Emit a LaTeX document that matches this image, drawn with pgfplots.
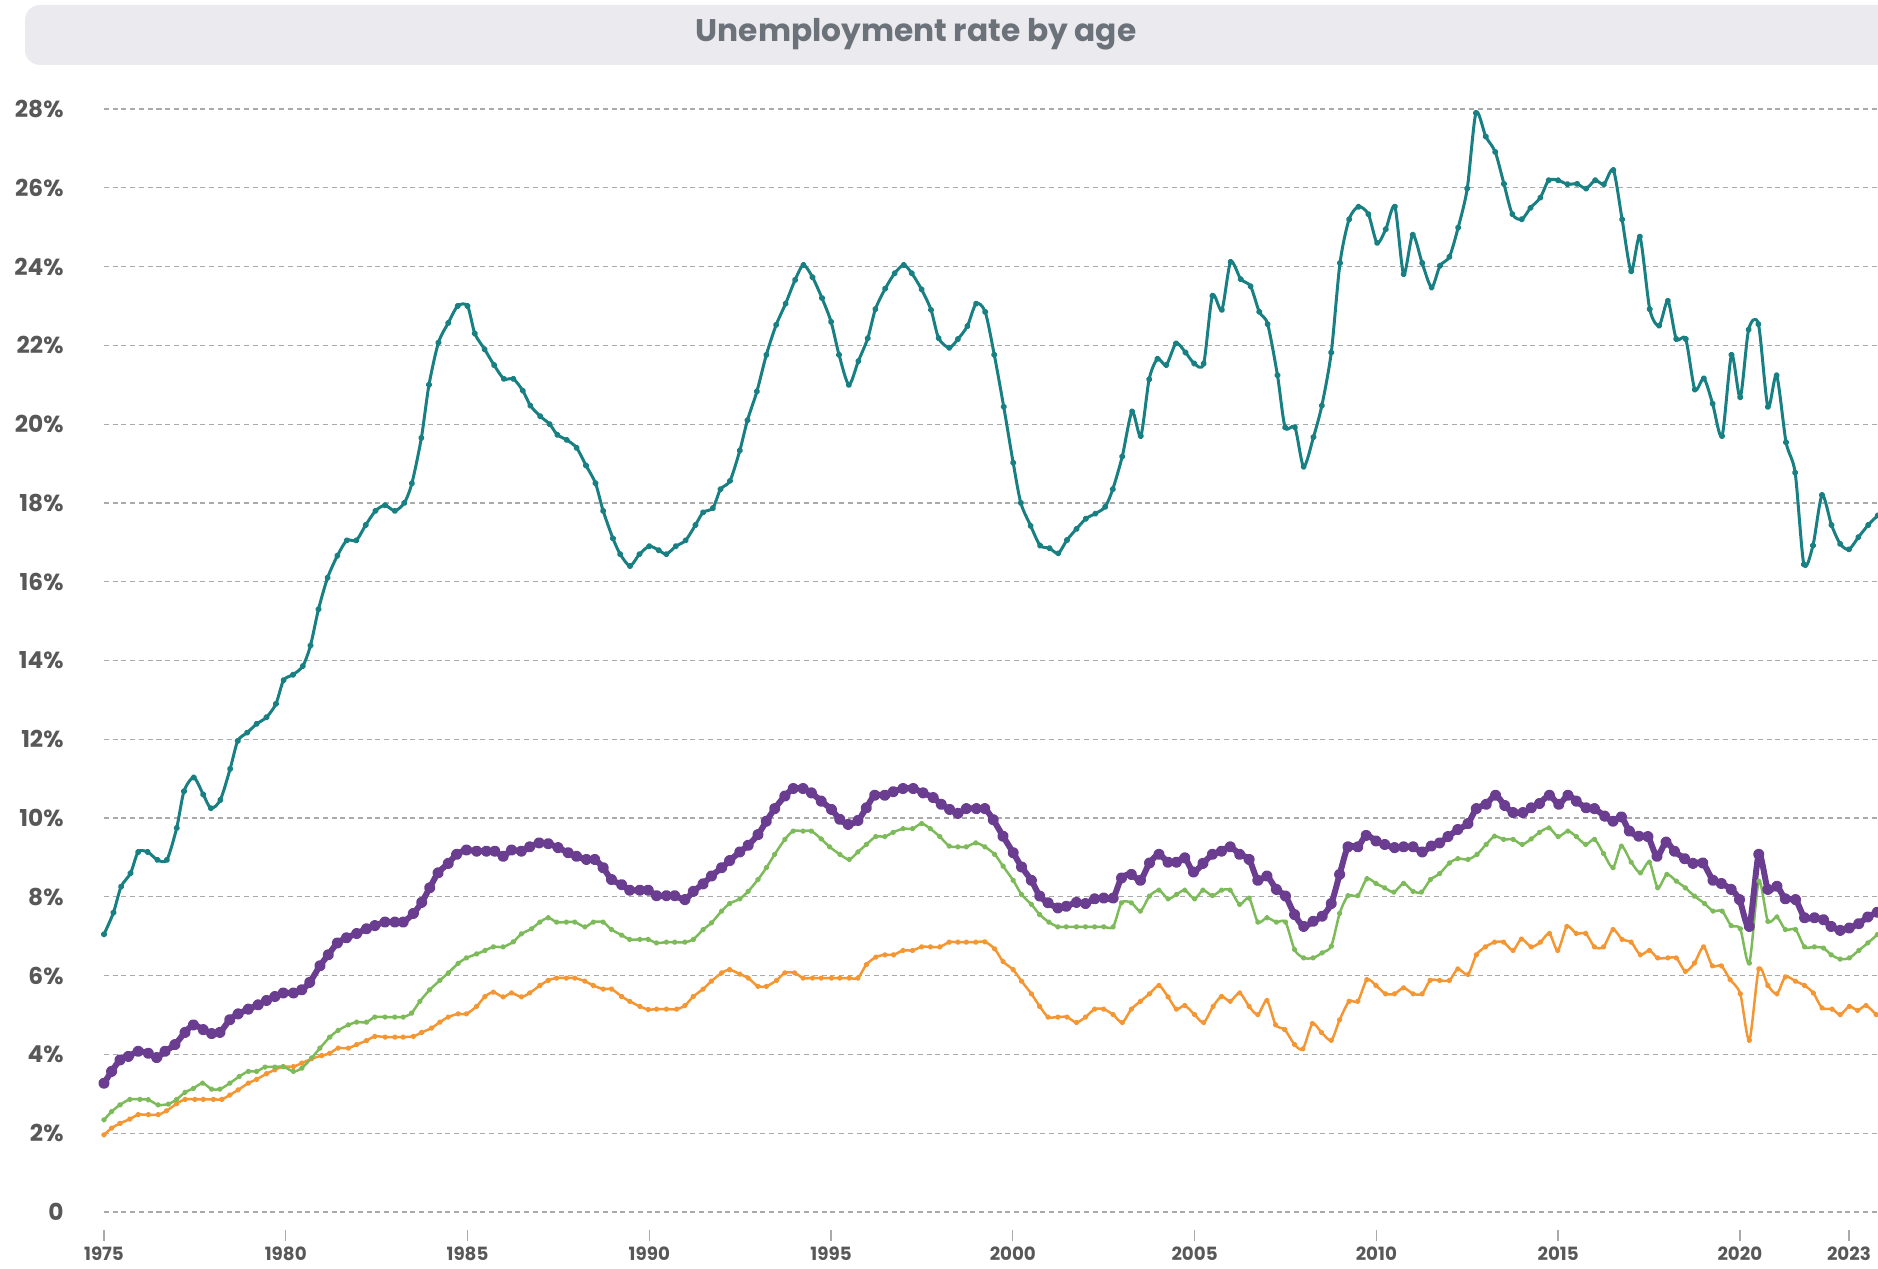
\documentclass[border=0pt]{standalone}
\usepackage{pgfplots}
\pgfplotsset{compat=1.18}
\usepackage{fontspec}
\setmainfont{Poppins}

\definecolor{cteal}{RGB}{24,128,130}
\definecolor{cpurple}{RGB}{106,61,145}
\definecolor{cgreen}{RGB}{125,187,90}
\definecolor{corange}{RGB}{244,150,50}
\definecolor{titlebg}{RGB}{235,235,239}
\definecolor{titlegray}{RGB}{108,114,122}
\definecolor{labelgray}{RGB}{88,88,88}
\definecolor{gridgray}{RGB}{170,170,170}

\begin{document}
\begin{tikzpicture}
\useasboundingbox (-41.6pt,-22.4pt) rectangle (709.6pt,484.8pt);
\fill[titlebg, rounded corners=6pt] (-31.6pt,458.8pt) rectangle (725pt,482.8pt);
\node[font=\bfseries\fontsize{12.5}{14}\selectfont, text=titlegray] at (324.8pt,471pt) {Unemployment rate by age};
\begin{axis}[
    at={(0pt,0pt)}, anchor=south west,
    scale only axis, width=709.6pt, height=441.2pt,
    xmin=1975, xmax=2023.8, ymin=0, ymax=28,
    axis line style={draw=none},
    tick pos=left,
    ytick={0,2,...,28},
    yticklabels={0,2\%,4\%,6\%,8\%,10\%,12\%,14\%,16\%,18\%,20\%,22\%,24\%,26\%,28\%},
    xtick={1975,1980,1985,1990,1995,2000,2005,2010,2015,2020,2023},
    xticklabels={1975,1980,1985,1990,1995,2000,2005,2010,2015,2020,2023},
    ytick style={draw=none},
    major tick length=4.4pt,
    xtick style={draw=gridgray, line width=0.5pt, yshift=-11.6pt},
    ymajorgrids,
    major grid style={gridgray, line width=0.5pt, dash pattern=on 2pt off 1.5pt},
    ticklabel style={text=labelgray},
    yticklabel style={font=\bfseries\fontsize{9.3}{10}\selectfont, anchor=east, inner sep=0pt, xshift=-16pt},
    xticklabel style={font=\bfseries\fontsize{7.3}{8}\selectfont, anchor=north, inner sep=0pt, yshift=-13.8pt},
    every axis plot/.append style={smooth, tension=0.45, line join=round, mark=*},
]
% 25+ (orange)
\addplot[corange, line width=1pt, mark size=0.65pt] table {
1975.0 1.96
1975.21 2.13
1975.44 2.25
1975.71 2.36
1975.94 2.47
1976.22 2.47
1976.49 2.47
1976.72 2.57
1977.0 2.75
1977.23 2.86
1977.5 2.86
1977.73 2.86
1978.01 2.86
1978.24 2.86
1978.46 2.97
1978.69 3.10
1978.97 3.27
1979.2 3.37
1979.47 3.51
1979.7 3.61
1979.93 3.69
1980.21 3.69
1980.44 3.78
1980.71 3.89
1980.99 3.97
1981.21 4.03
1981.44 4.16
1981.72 4.16
1981.95 4.25
1982.22 4.35
1982.45 4.46
1982.73 4.44
1983.0 4.44
1983.23 4.44
1983.51 4.46
1983.74 4.56
1984.01 4.67
1984.24 4.82
1984.47 4.95
1984.74 5.03
1984.97 5.03
1985.25 5.22
1985.48 5.47
1985.71 5.58
1985.98 5.46
1986.21 5.56
1986.48 5.46
1986.71 5.56
1986.99 5.75
1987.22 5.88
1987.45 5.94
1987.72 5.94
1987.95 5.94
1988.23 5.86
1988.46 5.75
1988.73 5.66
1988.96 5.66
1989.24 5.47
1989.46 5.35
1989.74 5.22
1989.97 5.14
1990.2 5.15
1990.47 5.15
1990.75 5.15
1990.98 5.24
1991.21 5.47
1991.48 5.66
1991.71 5.86
1991.99 6.07
1992.21 6.15
1992.49 6.04
1992.72 5.94
1992.99 5.73
1993.22 5.73
1993.5 5.88
1993.73 6.07
1994.0 6.07
1994.23 5.94
1994.49 5.94
1994.73 5.94
1995.01 5.94
1995.24 5.94
1995.5 5.94
1995.74 5.94
1995.97 6.28
1996.23 6.47
1996.48 6.53
1996.72 6.53
1996.98 6.64
1997.24 6.64
1997.49 6.73
1997.73 6.73
1997.99 6.73
1998.25 6.85
1998.49 6.85
1998.72 6.85
1998.98 6.85
1999.23 6.86
1999.5 6.68
1999.73 6.36
2000.01 6.15
2000.24 5.86
2000.51 5.54
2000.74 5.22
2000.97 4.95
2001.24 4.95
2001.49 4.95
2001.75 4.81
2002.0 4.95
2002.25 5.15
2002.5 5.15
2002.76 5.01
2003.01 4.81
2003.26 5.15
2003.51 5.35
2003.76 5.54
2004.02 5.75
2004.27 5.46
2004.5 5.15
2004.73 5.24
2005.0 5.01
2005.25 4.81
2005.51 5.22
2005.74 5.47
2005.98 5.35
2006.24 5.56
2006.5 5.22
2006.74 5.01
2006.99 5.37
2007.23 4.75
2007.48 4.63
2007.75 4.25
2007.98 4.14
2008.24 4.78
2008.49 4.56
2008.76 4.36
2008.99 4.88
2009.25 5.35
2009.49 5.35
2009.74 5.90
2009.99 5.75
2010.25 5.54
2010.5 5.54
2010.75 5.69
2011.01 5.54
2011.26 5.54
2011.48 5.88
2011.74 5.88
2012.01 5.88
2012.24 6.17
2012.52 6.03
2012.75 6.53
2013.0 6.73
2013.25 6.85
2013.5 6.85
2013.76 6.64
2013.99 6.93
2014.26 6.73
2014.51 6.85
2014.76 7.07
2014.99 6.64
2015.24 7.25
2015.5 7.07
2015.76 7.07
2016.0 6.73
2016.25 6.73
2016.51 7.17
2016.76 6.92
2017.01 6.85
2017.26 6.53
2017.51 6.64
2017.74 6.45
2018.02 6.45
2018.25 6.45
2018.5 6.11
2018.75 6.32
2019.0 6.73
2019.24 6.25
2019.49 6.25
2019.73 5.90
2020.01 5.54
2020.26 4.36
2020.52 6.17
2020.77 5.75
2021.02 5.54
2021.25 5.97
2021.53 5.86
2021.78 5.75
2022.02 5.56
2022.26 5.18
2022.54 5.15
2022.76 5.01
2023.01 5.22
2023.24 5.12
2023.47 5.24
2023.75 5.01
};
% 15-64 (green)
\addplot[cgreen, line width=1pt, mark size=0.65pt] table {
1975.0 2.34
1975.21 2.55
1975.44 2.72
1975.71 2.86
1975.99 2.86
1976.22 2.85
1976.49 2.72
1976.77 2.74
1977.0 2.86
1977.23 3.04
1977.46 3.14
1977.71 3.27
1977.96 3.12
1978.19 3.12
1978.46 3.27
1978.72 3.44
1978.97 3.57
1979.2 3.57
1979.43 3.68
1979.7 3.68
1979.93 3.69
1980.21 3.57
1980.44 3.65
1980.71 3.91
1980.94 4.16
1981.21 4.44
1981.44 4.61
1981.72 4.75
1981.95 4.82
1982.22 4.82
1982.45 4.95
1982.73 4.95
1983.0 4.95
1983.23 4.95
1983.46 5.05
1983.69 5.35
1983.96 5.64
1984.24 5.88
1984.47 6.07
1984.74 6.31
1984.97 6.45
1985.25 6.55
1985.48 6.64
1985.71 6.73
1985.98 6.73
1986.26 6.86
1986.48 7.06
1986.76 7.19
1986.99 7.36
1987.22 7.47
1987.45 7.36
1987.72 7.36
1987.95 7.36
1988.23 7.24
1988.46 7.36
1988.73 7.36
1988.96 7.17
1989.24 7.03
1989.46 6.92
1989.74 6.92
1989.97 6.92
1990.2 6.83
1990.47 6.85
1990.7 6.85
1990.98 6.85
1991.21 6.92
1991.48 7.17
1991.71 7.34
1991.99 7.64
1992.21 7.83
1992.49 7.95
1992.72 8.14
1992.99 8.44
1993.22 8.74
1993.45 9.08
1993.73 9.46
1993.96 9.67
1994.23 9.67
1994.46 9.67
1994.73 9.47
1994.96 9.27
1995.24 9.08
1995.5 8.95
1995.74 9.14
1995.97 9.33
1996.23 9.53
1996.48 9.53
1996.71 9.64
1996.98 9.73
1997.24 9.73
1997.49 9.86
1997.73 9.73
1997.99 9.53
1998.25 9.29
1998.49 9.27
1998.72 9.27
1998.98 9.37
1999.23 9.27
1999.5 9.08
1999.73 8.78
2000.01 8.42
2000.24 8.06
2000.51 7.81
2000.74 7.55
2000.99 7.36
2001.24 7.24
2001.47 7.24
2001.75 7.24
2002.0 7.24
2002.25 7.24
2002.5 7.24
2002.76 7.24
2002.99 7.85
2003.26 7.85
2003.51 7.64
2003.76 8.02
2004.02 8.17
2004.27 7.95
2004.5 8.06
2004.73 8.17
2005.0 7.95
2005.23 8.17
2005.49 8.03
2005.74 8.17
2005.98 8.17
2006.24 7.81
2006.5 7.97
2006.74 7.36
2006.99 7.47
2007.25 7.36
2007.5 7.36
2007.75 6.66
2008.0 6.45
2008.26 6.45
2008.51 6.58
2008.76 6.75
2008.99 7.58
2009.22 8.03
2009.49 8.03
2009.74 8.46
2009.99 8.34
2010.23 8.23
2010.48 8.12
2010.75 8.34
2011.01 8.14
2011.24 8.12
2011.49 8.44
2011.74 8.59
2012.01 8.86
2012.24 8.97
2012.52 8.95
2012.77 9.08
2013.02 9.33
2013.25 9.54
2013.5 9.46
2013.76 9.46
2014.01 9.33
2014.26 9.47
2014.49 9.64
2014.75 9.75
2015.0 9.53
2015.27 9.67
2015.5 9.53
2015.76 9.33
2016.0 9.46
2016.25 9.10
2016.51 8.74
2016.74 9.29
2017.01 8.88
2017.26 8.61
2017.51 8.88
2017.74 8.23
2017.99 8.57
2018.25 8.40
2018.5 8.23
2018.75 8.02
2019.03 7.83
2019.26 7.64
2019.51 7.64
2019.76 7.27
2020.01 7.19
2020.26 6.32
2020.52 8.40
2020.77 7.38
2021.02 7.49
2021.25 7.17
2021.53 7.17
2021.78 6.73
2022.05 6.73
2022.3 6.70
2022.51 6.53
2022.76 6.42
2023.01 6.45
2023.27 6.64
2023.52 6.83
2023.78 7.04
};
% 15-74 (purple)
\addplot[cpurple, line width=2.4pt, mark size=1.05pt] table {
1975.0 3.27
1975.21 3.57
1975.44 3.86
1975.67 3.95
1975.94 4.08
1976.22 4.03
1976.45 3.92
1976.68 4.08
1976.95 4.25
1977.23 4.56
1977.46 4.75
1977.73 4.63
1977.96 4.53
1978.19 4.56
1978.46 4.88
1978.69 5.03
1978.97 5.15
1979.24 5.26
1979.47 5.37
1979.7 5.47
1979.93 5.56
1980.21 5.56
1980.44 5.64
1980.66 5.83
1980.94 6.25
1981.17 6.53
1981.42 6.83
1981.67 6.96
1981.95 7.07
1982.22 7.19
1982.45 7.27
1982.73 7.36
1983.0 7.36
1983.23 7.36
1983.51 7.58
1983.74 7.86
1983.96 8.23
1984.19 8.61
1984.47 8.85
1984.7 9.08
1984.97 9.19
1985.25 9.16
1985.52 9.16
1985.75 9.16
1985.98 9.03
1986.21 9.19
1986.48 9.16
1986.71 9.27
1986.97 9.37
1987.22 9.35
1987.49 9.25
1987.77 9.12
1988.0 9.03
1988.27 8.95
1988.5 8.95
1988.73 8.74
1988.96 8.44
1989.24 8.31
1989.46 8.17
1989.74 8.17
1989.97 8.17
1990.2 8.03
1990.47 8.03
1990.7 8.03
1990.98 7.93
1991.21 8.14
1991.48 8.33
1991.71 8.53
1991.99 8.74
1992.21 8.92
1992.49 9.14
1992.72 9.31
1992.99 9.58
1993.22 9.92
1993.45 10.24
1993.73 10.56
1993.96 10.75
1994.23 10.75
1994.46 10.64
1994.73 10.43
1995.01 10.22
1995.24 9.97
1995.47 9.84
1995.74 9.94
1995.97 10.26
1996.2 10.58
1996.48 10.58
1996.71 10.67
1996.98 10.75
1997.26 10.75
1997.53 10.64
1997.81 10.52
1998.03 10.35
1998.26 10.22
1998.49 10.12
1998.72 10.24
1999.0 10.24
1999.23 10.24
1999.46 9.96
1999.73 9.54
2000.01 9.12
2000.24 8.76
2000.51 8.42
2000.74 8.02
2000.97 7.85
2001.24 7.72
2001.47 7.76
2001.75 7.86
2002.0 7.83
2002.25 7.95
2002.5 7.97
2002.76 7.97
2002.99 8.48
2003.26 8.57
2003.51 8.42
2003.76 8.86
2004.02 9.08
2004.27 8.88
2004.5 8.88
2004.73 8.99
2004.97 8.63
2005.23 8.85
2005.49 9.08
2005.74 9.16
2005.98 9.27
2006.24 9.08
2006.5 8.95
2006.74 8.42
2006.99 8.53
2007.25 8.19
2007.5 8.02
2007.75 7.55
2008.0 7.25
2008.26 7.38
2008.51 7.51
2008.76 7.83
2008.99 8.57
2009.22 9.27
2009.49 9.27
2009.72 9.56
2009.99 9.42
2010.23 9.33
2010.5 9.25
2010.75 9.27
2011.01 9.27
2011.26 9.14
2011.51 9.29
2011.74 9.37
2011.97 9.53
2012.24 9.71
2012.52 9.86
2012.75 10.24
2013.02 10.35
2013.28 10.58
2013.53 10.32
2013.76 10.14
2014.03 10.14
2014.26 10.26
2014.49 10.37
2014.76 10.58
2015.02 10.35
2015.27 10.58
2015.5 10.43
2015.77 10.26
2016.0 10.24
2016.28 10.05
2016.51 9.92
2016.74 10.03
2016.96 9.67
2017.22 9.54
2017.47 9.53
2017.72 9.03
2017.97 9.39
2018.2 9.16
2018.48 8.97
2018.71 8.85
2018.98 8.86
2019.26 8.42
2019.49 8.34
2019.76 8.19
2019.99 7.93
2020.26 7.25
2020.52 9.08
2020.77 8.19
2021.02 8.27
2021.25 7.95
2021.53 7.93
2021.78 7.47
2022.05 7.47
2022.3 7.42
2022.51 7.25
2022.76 7.15
2023.01 7.21
2023.27 7.32
2023.52 7.49
2023.78 7.61
};
% 15-24 (teal)
\addplot[cteal, line width=1.2pt, mark size=0.7pt] table {
1975.0 7.05
1975.26 7.60
1975.47 8.26
1975.73 8.60
1975.94 9.14
1976.2 9.14
1976.47 8.94
1976.73 8.94
1977.0 9.75
1977.2 10.68
1977.47 11.03
1977.73 10.60
1977.94 10.25
1978.2 10.46
1978.47 11.25
1978.68 11.96
1978.94 12.17
1979.2 12.39
1979.47 12.56
1979.73 12.90
1979.94 13.50
1980.2 13.64
1980.47 13.86
1980.68 14.38
1980.9 15.30
1981.15 16.10
1981.42 16.66
1981.68 17.05
1981.94 17.05
1982.2 17.44
1982.47 17.80
1982.73 17.94
1983.0 17.80
1983.26 18.00
1983.47 18.50
1983.73 19.65
1983.94 21.00
1984.2 22.07
1984.47 22.57
1984.73 23.00
1985.0 23.00
1985.2 22.30
1985.47 21.90
1985.73 21.50
1986.0 21.15
1986.26 21.15
1986.52 20.85
1986.73 20.47
1987.0 20.20
1987.26 20.00
1987.47 19.73
1987.73 19.60
1988.0 19.40
1988.26 18.95
1988.52 18.50
1988.73 17.80
1989.0 17.10
1989.2 16.70
1989.47 16.40
1989.73 16.70
1990.0 16.90
1990.26 16.80
1990.47 16.70
1990.73 16.90
1991.0 17.05
1991.27 17.44
1991.48 17.76
1991.75 17.87
1991.96 18.35
1992.22 18.56
1992.49 19.33
1992.7 20.10
1992.96 20.83
1993.22 21.76
1993.49 22.52
1993.75 23.06
1994.01 23.66
1994.24 24.04
1994.49 23.73
1994.75 23.20
1995.0 22.60
1995.22 21.76
1995.49 21.00
1995.75 21.60
1996.01 22.18
1996.22 22.92
1996.49 23.44
1996.75 23.83
1997.0 24.04
1997.22 23.83
1997.49 23.42
1997.75 22.90
1997.96 22.18
1998.25 21.94
1998.49 22.16
1998.75 22.49
1998.99 23.06
1999.24 22.85
1999.49 21.76
1999.75 20.44
2000.01 19.02
2000.22 18.00
2000.49 17.42
2000.75 16.92
2001.01 16.85
2001.25 16.72
2001.49 17.06
2001.75 17.34
2002.01 17.60
2002.27 17.73
2002.54 17.90
2002.75 18.35
2003.01 19.18
2003.28 20.32
2003.52 19.70
2003.75 21.14
2003.98 21.66
2004.22 21.50
2004.49 22.05
2004.75 21.82
2004.99 21.54
2005.25 21.54
2005.49 23.26
2005.75 22.90
2005.99 24.12
2006.27 23.68
2006.54 23.50
2006.78 22.85
2007.01 22.54
2007.28 21.24
2007.49 19.92
2007.76 19.92
2008.0 18.92
2008.27 19.67
2008.5 20.47
2008.76 21.82
2009.0 24.09
2009.25 25.20
2009.51 25.52
2009.78 25.33
2010.02 24.60
2010.26 24.95
2010.51 25.52
2010.75 23.81
2011.0 24.81
2011.26 24.09
2011.52 23.47
2011.75 24.02
2012.01 24.25
2012.25 24.99
2012.5 25.98
2012.74 27.90
2013.01 27.30
2013.27 26.91
2013.51 26.10
2013.74 25.33
2014.0 25.20
2014.24 25.49
2014.51 25.75
2014.74 26.19
2015.0 26.19
2015.26 26.09
2015.52 26.10
2015.77 25.98
2016.02 26.19
2016.26 26.09
2016.52 26.45
2016.76 25.20
2017.01 23.88
2017.25 24.76
2017.52 22.92
2017.78 22.50
2018.02 23.13
2018.25 22.16
2018.51 22.16
2018.76 20.88
2019.01 21.16
2019.25 20.52
2019.51 19.70
2019.77 21.76
2020.01 20.68
2020.24 22.40
2020.51 22.54
2020.77 20.44
2021.01 21.24
2021.27 19.54
2021.52 18.77
2021.76 16.44
2022.01 16.92
2022.26 18.20
2022.52 17.44
2022.76 16.96
2023.0 16.82
2023.26 17.13
2023.53 17.44
2023.79 17.68
};
\end{axis}
\end{tikzpicture}
\end{document}
